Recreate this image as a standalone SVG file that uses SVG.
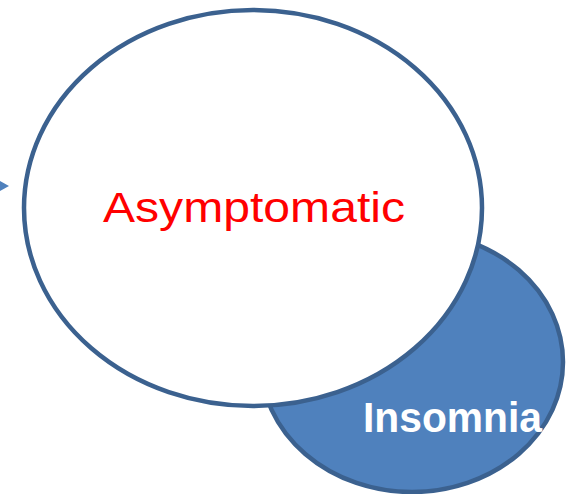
<svg xmlns="http://www.w3.org/2000/svg" width="573" height="494" viewBox="0 0 573 494">
  <style>
    .shape { stroke: #3B618F; stroke-width: 4.5; }
    .lbl { font-family: "Liberation Sans", Arial, sans-serif; }
  </style>
  <rect width="573" height="494" fill="#FFFFFF"/>
  <g id="connectors">
    <polygon points="0,181 9,186 0,191" fill="#4F81BD"/>
  </g>
  <g id="insomnia">
    <ellipse class="shape" cx="412" cy="362" rx="151" ry="130" fill="#4F81BD"/>
  </g>
  <g id="asymptomatic">
    <ellipse class="shape" cx="253" cy="208" rx="229" ry="198" fill="#FFFFFF"/>
    <text class="lbl" x="103" y="222" font-size="43" fill="#FF0000" textLength="302" lengthAdjust="spacingAndGlyphs">Asymptomatic</text>
  </g>
  <g id="insomnia-label">
    <text class="lbl" x="363" y="432" font-size="42" font-weight="bold" fill="#FFFFFF" textLength="179" lengthAdjust="spacingAndGlyphs">Insomnia</text>
  </g>
</svg>
